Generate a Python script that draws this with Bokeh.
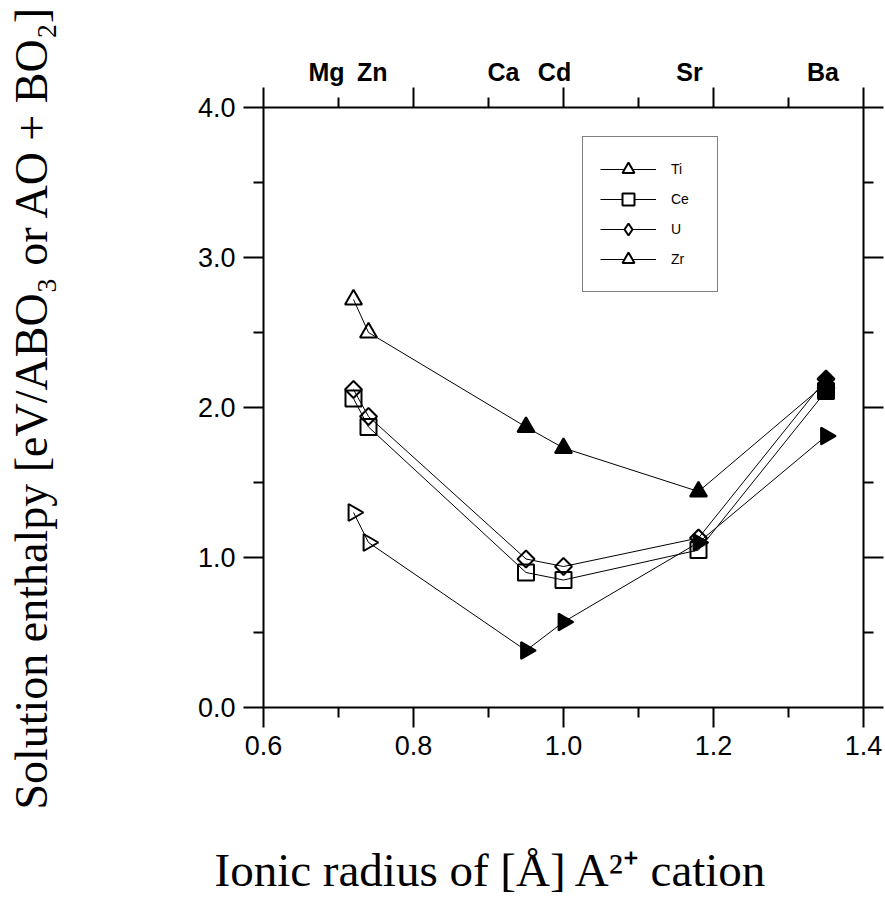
import numpy as np
from bokeh.plotting import figure
from bokeh.models import (Range1d, LinearAxis, FixedTicker, Legend, LegendItem,
                          NumeralTickFormatter, CustomJSTickFormatter, Title)
from bokeh.embed import file_html
from bokeh.resources import INLINE

# ---- data ----
cations = ["Mg", "Zn", "Ca", "Cd", "Sr", "Ba"]
radius = [0.72, 0.74, 0.95, 1.00, 1.18, 1.35]
ti = [2.72, 2.50, 1.87, 1.73, 1.44, 2.16]
ce = [2.06, 1.87, 0.90, 0.85, 1.05, 2.11]
u = [2.12, 1.94, 0.99, 0.94, 1.13, 2.19]
zr = [1.30, 1.10, 0.38, 0.57, 1.10, 1.81]
ti_filled = [False, False, True, True, True, True]
ce_filled = [False, False, False, False, False, True]
u_filled = [False, False, False, False, False, True]
zr_filled = [False, False, True, True, True, True]
top_label_x = [0.684, 0.745, 0.92, 0.988, 1.168, 1.346]
series_names = ["Ti", "Ce", "U", "Zr"]
x_major = [0.6, 0.8, 1.0, 1.2, 1.4]
x_minor = [0.7, 0.9, 1.1, 1.3]
y_major = [0.0, 1.0, 2.0, 3.0, 4.0]
y_minor = [0.5, 1.5, 2.5, 3.5]
spacer_tick = [0.7]

p = figure(width=885, height=901, output_backend="svg", toolbar_location=None,
           x_range=Range1d(0.6, 1.4), y_range=Range1d(0.0, 4.0),
           min_border_left=263, min_border_right=22, min_border_top=107,
           min_border_bottom=194)
p.grid.visible = False
p.outline_line_color = None
p.background_fill_color = "white"

blank = CustomJSTickFormatter(code="return ''")

def style_axis(ax, labels=True):
    ax.axis_line_color = "black"
    ax.axis_line_width = 2
    ax.major_tick_line_color = "black"
    ax.major_tick_line_width = 2
    ax.minor_tick_line_color = "black"
    ax.minor_tick_line_width = 2
    ax.major_tick_out = 20
    ax.major_tick_in = 0
    ax.minor_tick_out = 10
    ax.minor_tick_in = 0
    ax.major_label_text_font = "Liberation Sans"
    ax.major_label_text_font_size = "27px"
    ax.major_label_text_color = "black"
    if not labels:
        ax.formatter = blank
        ax.major_label_standoff = 0

p.xaxis.ticker = FixedTicker(ticks=x_major, minor_ticks=x_minor)
p.yaxis.ticker = FixedTicker(ticks=y_major, minor_ticks=y_minor)
style_axis(p.xaxis[0])
style_axis(p.yaxis[0])
p.xaxis.major_label_standoff = 8
p.yaxis.major_label_standoff = 8
p.yaxis.formatter = NumeralTickFormatter(format="0.0")
p.xaxis.formatter = NumeralTickFormatter(format="0.0")

p.yaxis.axis_label = "Solution enthalpy [eV/ABO₃ or AO + BO₂]"
p.yaxis.axis_label_text_font = "Liberation Serif"
p.yaxis.axis_label_text_font_style = "normal"
p.yaxis.axis_label_text_font_size = "46px"
p.yaxis.axis_label_text_color = "black"
p.yaxis.axis_label_standoff = 138

# invisible spacer below the x axis (white tick on white) to push the x title down
spacer = LinearAxis(ticker=FixedTicker(ticks=spacer_tick, minor_ticks=[]), formatter=blank)
spacer.axis_line_color = None
spacer.major_tick_line_color = "white"
spacer.minor_tick_line_color = None
spacer.major_tick_out = 84
spacer.major_tick_in = 0
spacer.minor_tick_out = 0
spacer.minor_tick_in = 0
spacer.major_label_standoff = 0
p.add_layout(spacer, "below")

xtitle = Title(text="Ionic radius of [Å] A²⁺ cation", align="left", offset=-49,
               standoff=0, vertical_align="bottom", text_font="Liberation Serif",
               text_font_style="normal", text_font_size="47px", text_color="black")
p.add_layout(xtitle, "below")

right = LinearAxis(ticker=FixedTicker(ticks=y_major, minor_ticks=y_minor))
style_axis(right, labels=False)
p.add_layout(right, "right")

top = LinearAxis(ticker=FixedTicker(ticks=x_major, minor_ticks=x_minor))
style_axis(top, labels=False)
p.add_layout(top, "above")

top_lab = LinearAxis(ticker=FixedTicker(ticks=top_label_x, minor_ticks=[]),
                     major_label_overrides={x: c for x, c in zip(top_label_x, cations)})
top_lab.axis_line_color = None
top_lab.major_tick_line_color = None
top_lab.minor_tick_line_color = None
top_lab.major_tick_out = 0
top_lab.major_tick_in = 0
top_lab.major_label_standoff = 2
top_lab.major_label_text_font = "Liberation Sans"
top_lab.major_label_text_font_style = "bold"
top_lab.major_label_text_font_size = "25px"
top_lab.major_label_text_color = "black"
p.add_layout(top_lab, "above")

def marker_kw(name):
    if name == "Ti":
        return dict(marker="triangle", size=17, angle=0.0)
    if name == "Ce":
        return dict(marker="square", size=16, angle=0.0)
    if name == "U":
        return dict(marker="square", size=12, angle=np.pi / 4)
    return dict(marker="triangle", size=17, angle=-np.pi / 2)

legend_marker = {"Ti": "triangle", "Ce": "square", "U": "diamond", "Zr": "triangle"}

items = []
for name, ys, filled in zip(series_names, [ti, ce, u, zr],
                            [ti_filled, ce_filled, u_filled, zr_filled]):
    ln = p.line(radius, ys, line_color="black", line_width=1)
    xo = [x for x, f in zip(radius, filled) if not f]
    yo = [y for y, f in zip(ys, filled) if not f]
    xf = [x for x, f in zip(radius, filled) if f]
    yf = [y for y, f in zip(ys, filled) if f]
    kw = marker_kw(name)
    p.scatter(xo, yo, line_color="black", line_width=2, fill_color=None, **kw)
    p.scatter(xf, yf, line_color="black", line_width=2, fill_color="black", **kw)
    # legend-only proxy glyph (no visible data point)
    leg_r = p.scatter(x=[np.nan], y=[np.nan], marker=legend_marker[name],
                      line_color="black", line_width=2, fill_color="white")
    items.append(LegendItem(label=name, renderers=[ln, leg_r]))

legend = Legend(items=items, location=(319, 415))
legend.border_line_color = "black"
legend.border_line_width = 1
legend.background_fill_color = "white"
legend.padding = 17
legend.margin = 0
legend.spacing = 0
legend.glyph_width = 56
legend.glyph_height = 30
legend.label_height = 30
legend.label_width = 29
legend.label_standoff = 15
legend.label_text_font = "Liberation Sans"
legend.label_text_font_size = "14px"
legend.label_text_color = "black"
p.add_layout(legend, "center")

open("out.html", "w").write(file_html(p, INLINE))
